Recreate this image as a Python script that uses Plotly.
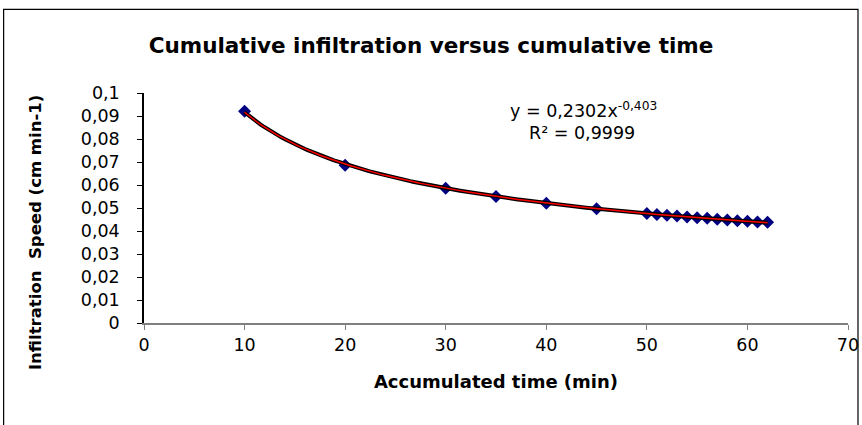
import numpy as np
import plotly.graph_objects as go

# Data
time_min = [10, 20, 30, 35, 40, 45, 50, 51, 52, 53, 54, 55, 56, 57, 58, 59, 60, 61, 62]
speed = [0.0921, 0.0686, 0.0586, 0.0550, 0.0521, 0.0497, 0.0476, 0.0472, 0.0468, 0.0465,
         0.0461, 0.0458, 0.0455, 0.0451, 0.0448, 0.0445, 0.0442, 0.0439, 0.0438]

y_ticks = [0, 0.01, 0.02, 0.03, 0.04, 0.05, 0.06, 0.07, 0.08, 0.09, 0.1]
y_ticktext = ["0", "0,01", "0,02", "0,03", "0,04", "0,05", "0,06", "0,07", "0,08", "0,09", "0,1"]
x_ticks = [0, 10, 20, 30, 40, 50, 60, 70]

# Power trendline fitted to the data (least squares in log space, like Excel)
b, ln_a = np.polyfit(np.log(time_min), np.log(speed), 1)
a = np.exp(ln_a)
xf = np.linspace(min(time_min), max(time_min), 200)
yf = a * xf ** b

FONT = "DejaVu Sans, Liberation Sans, Arial, sans-serif"

fig = go.Figure()
fig.add_trace(go.Scatter(x=time_min, y=speed, mode="markers",
                         marker=dict(symbol="diamond", size=10, color="#000080"),
                         showlegend=False, hoverinfo="skip"))
# smoothed black series line (follows the fitted curve closely)
fig.add_trace(go.Scatter(x=xf, y=yf, mode="lines",
                         line=dict(color="black", width=4),
                         showlegend=False, hoverinfo="skip"))
fig.add_trace(go.Scatter(x=xf, y=yf, mode="lines",
                         line=dict(color="#ff0000", width=1.5),
                         showlegend=False, hoverinfo="skip"))

fig.update_layout(
    width=862, height=425,
    margin=dict(l=144, r=14, t=93, b=102, autoexpand=False),
    paper_bgcolor="white", plot_bgcolor="white",
    font=dict(family=FONT, color="black"),
    title=dict(text="<b>Cumulative infiltration versus cumulative time</b>",
               x=0.5, xanchor="center", xref="container", y=0.892, yanchor="middle",
               font=dict(size=21.5, family=FONT, color="black")),
    xaxis=dict(range=[0, 70], tickvals=x_ticks, showgrid=False, zeroline=False,
               showline=True, linecolor="#7f7f7f", linewidth=1.5,
               ticks="outside", ticklen=5, tickcolor="#7f7f7f",
               tickfont=dict(size=17.5, family=FONT, color="black"),
               title=dict(text="<b>Accumulated time (min)</b>", standoff=22,
                          font=dict(size=18, family=FONT, color="black"))),
    yaxis=dict(range=[0, 0.1], tickvals=y_ticks, ticktext=y_ticktext,
               showgrid=False, zeroline=False,
               showline=True, linecolor="#000000", linewidth=1.5,
               ticks="outside", ticklen=5, tickcolor="#000000",
               ticklabelstandoff=14,
               tickfont=dict(size=17.5, family=FONT, color="black")),
    annotations=[
        dict(x=-0.1548, y=0.391, xref="paper", yref="paper", showarrow=False,
             text="<b>Infiltration  Speed (cm min-1)</b>", textangle=-90,
             xanchor="center", yanchor="middle",
             font=dict(size=16.5, family=FONT, color="black")),
        dict(x=0.624, y=0.928, xref="paper", yref="paper", showarrow=False,
             text="y = 0,2302x<sup>-0,403</sup>", xanchor="center", yanchor="middle",
             font=dict(size=17.5, family=FONT, color="black")),
        dict(x=0.622, y=0.827, xref="paper", yref="paper", showarrow=False,
             text="R² = 0,9999", xanchor="center", yanchor="middle",
             font=dict(size=17.5, family=FONT, color="black")),
    ],
    shapes=[
        dict(type="rect", xref="paper", yref="paper",
             x0=-0.1994, x1=1.0142, y0=-0.48, y1=1.3632,
             line=dict(color="black", width=1.2), fillcolor="rgba(0,0,0,0)",
             layer="below"),
    ],
)

fig.write_html("out.html", config={"displayModeBar": False},
               post_script="document.body.style.margin='0';")
